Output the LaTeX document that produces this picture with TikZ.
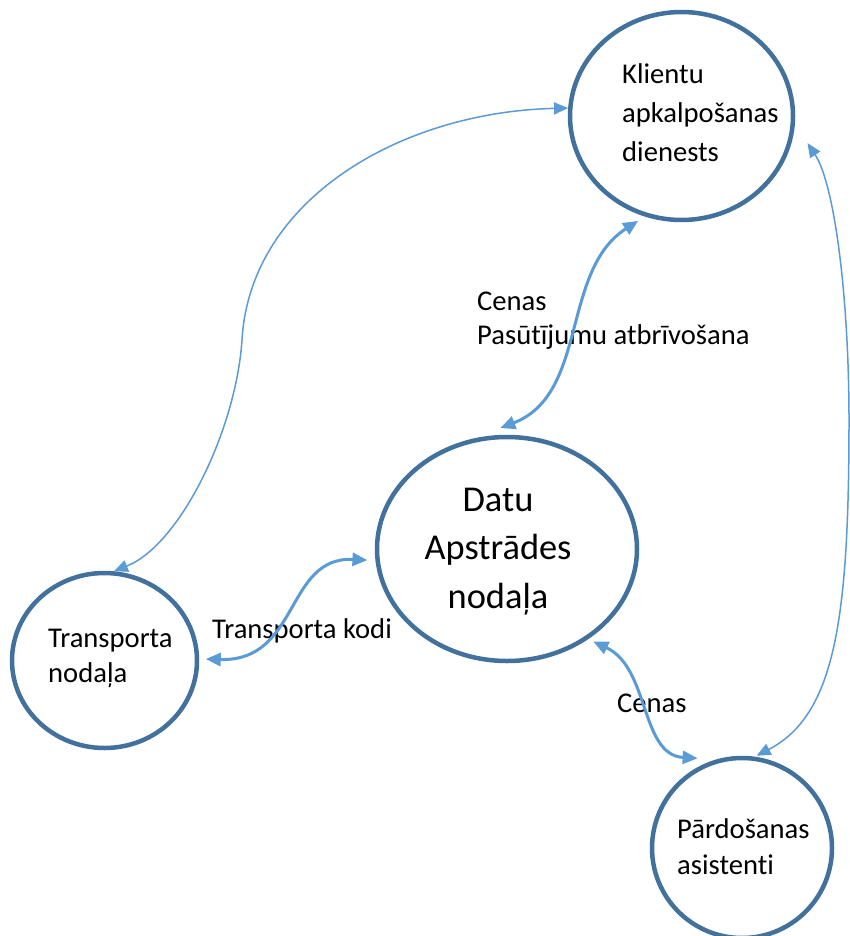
\documentclass[tikz,border=0pt]{standalone}
\usepackage{fontspec}
\setmainfont{Carlito}[Ligatures={NoCommon}]
\usetikzlibrary{arrows.meta,shapes.geometric}

\definecolor{ringblue}{HTML}{41719C}
\definecolor{flowblue}{HTML}{5B9BD5}

% stacked text lines, first baseline = node baseline
\newcommand\leftlines[1]{\begin{tabular}[t]{@{}l@{}}#1\end{tabular}}
\newcommand\midlines[1]{\begin{tabular}[t]{@{}c@{}}#1\end{tabular}}

\tikzset{
  ring/.style={ellipse, draw=ringblue, line width=4.5pt, inner sep=0pt},
  txt/.style={inner sep=0pt, text=black, font=\fontsize{28.6}{34.8}\selectfont},
  flowthick/.style={draw=flowblue, line width=3pt,
    {Triangle[length=15pt,width=13pt]}-{Triangle[length=15pt,width=13pt]}},
  flowthin/.style={draw=flowblue, line width=1.5pt,
    {Triangle[length=14pt,width=12pt]}-{Triangle[length=14pt,width=12pt]}},
}

\begin{document}
\begin{tikzpicture}[x=1pt, y=-1pt]
  \useasboundingbox (0,0) rectangle (850,936);
  \fill[white] (0,0) rectangle (850,936);
  \clip (0,0) rectangle (850,936);

  % departments
  \node[ring, minimum width=223pt, minimum height=208pt] (kl) at (681.5,116) {};
  \node[ring, minimum width=260pt, minimum height=224pt] (da) at (507,549) {};
  \node[ring, minimum width=185pt, minimum height=175pt] (tr) at (104.5,660.5) {};
  \node[ring, minimum width=180pt, minimum height=180pt] (pa) at (742,848) {};

  % department names
  \node[txt, anchor=base west, font=\fontsize{28.6}{39}\selectfont] (kl-t) at (622,84)
    {\leftlines{Klientu\\apkalpošanas\\dienests}};
  \node[txt, anchor=base, font=\fontsize{36.4}{48.5}\selectfont] (da-t) at (498,511)
    {\midlines{Datu\\Apstrādes\\nodaļa}};
  \node[txt, anchor=base west, font=\fontsize{28.6}{35}\selectfont] (tr-t) at (48,647)
    {\leftlines{Transporta\\nodaļa}};
  \node[txt, anchor=base west, font=\fontsize{28.6}{36}\selectfont] (pa-t) at (677,838)
    {\leftlines{Pārdošanas\\asistenti}};

  % flow labels
  \node[txt, anchor=base west] (lab-kd) at (477,310)
    {\leftlines{Cenas\\Pasūtījumu atbrīvošana}};
  \node[txt, anchor=base west] (lab-td) at (212,638) {Transporta kodi};
  \node[txt, anchor=base west] (lab-dp) at (617,712) {Cenas};

  % flows
  \draw[flowthin] (kl.176) .. controls (400,112) and (250,200) .. (242,340)
        .. controls (236,430) and (180,545) .. (tr.84);
  \draw[flowthin, shorten <=23pt, shorten >=2pt] (kl.356)
        .. controls (835,185) and (849,300) .. (849,420)
        .. controls (849,620) and (835,715) .. (pa.82);
  \draw[flowthick, shorten <=8pt, shorten >=29pt] (kl.250)
        .. controls (560.5,270.6) and (588.6,393.9) .. (da.107);
  \draw[flowthick, shorten <=6.5pt, shorten >=8pt] (tr.1)
        .. controls (300,662) and (285,556) .. (da.185);
  \draw[flowthick, shorten <=5.6pt, shorten >=19pt] (da.312)
        .. controls (650,668) and (640,755) .. (pa.106);
\end{tikzpicture}
\end{document}
